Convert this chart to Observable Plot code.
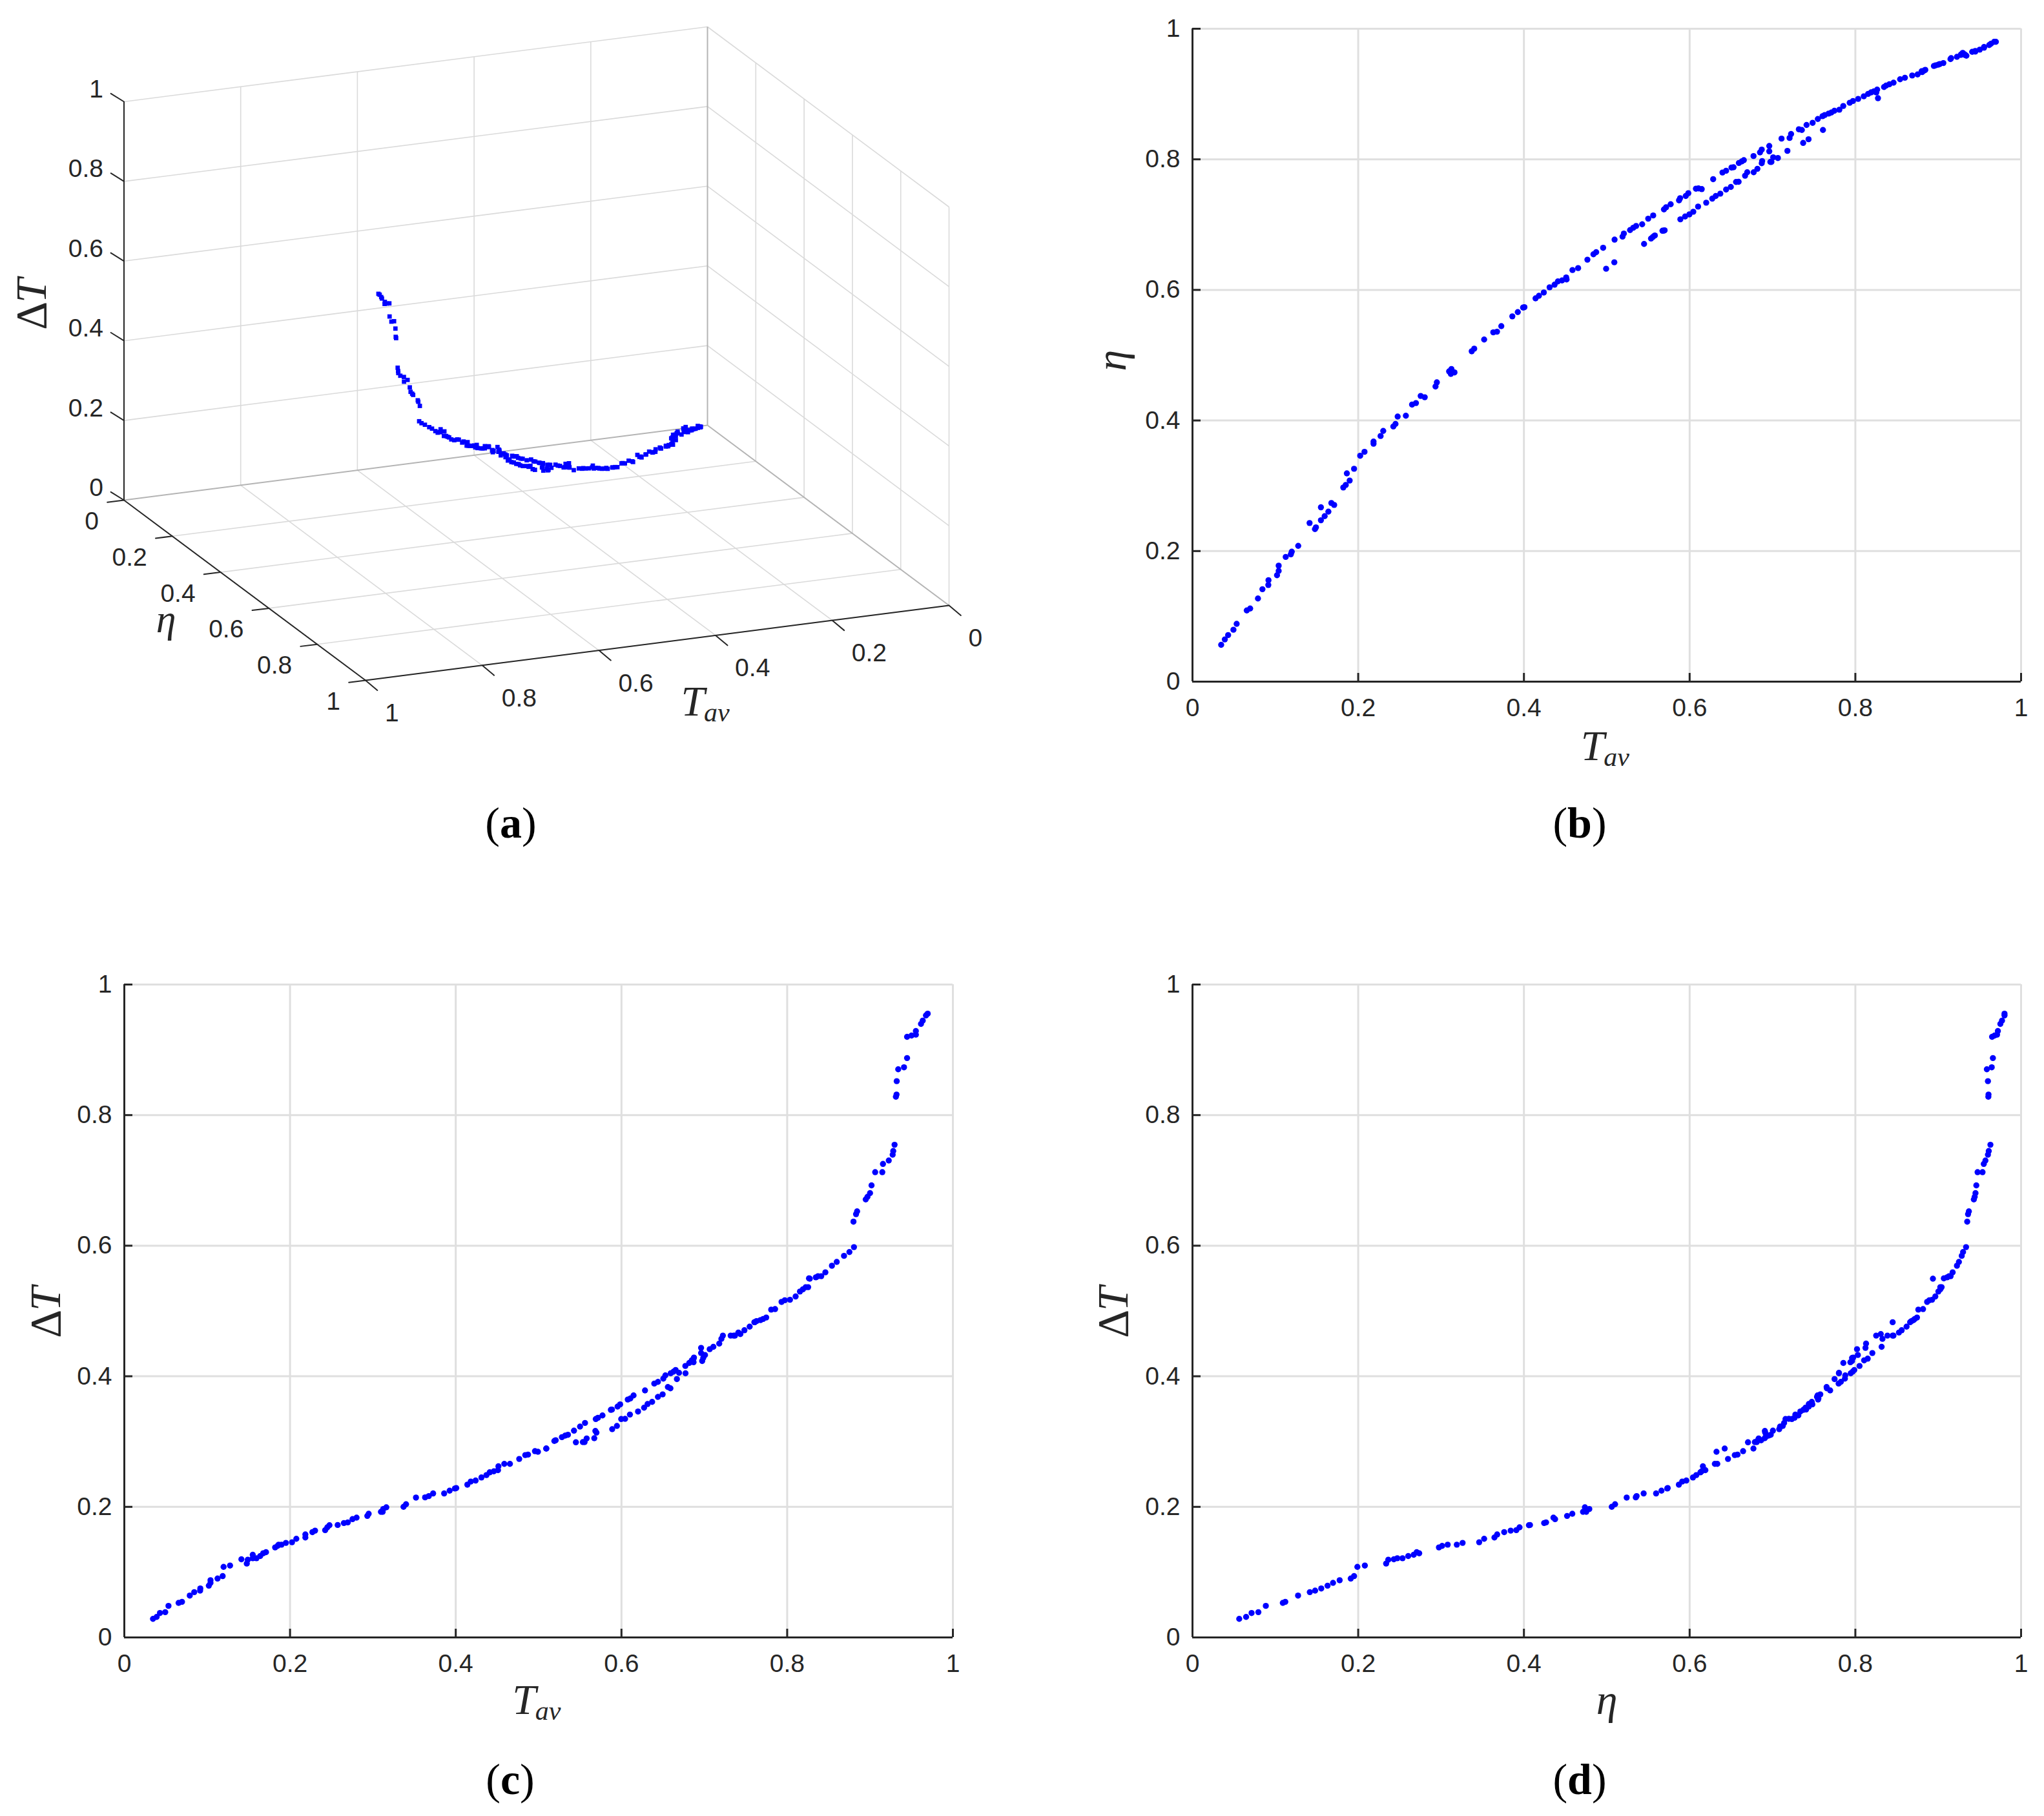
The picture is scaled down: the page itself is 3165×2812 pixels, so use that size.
<!DOCTYPE html>
<html>
<head>
<meta charset="utf-8">
<script src="https://cdn.jsdelivr.net/npm/d3@7"></script>
<script src="https://cdn.jsdelivr.net/npm/@observablehq/plot@0.6"></script>
<style>
html,body{margin:0;padding:0;background:#fff}
#page{position:relative;width:3165px;height:2812px;overflow:hidden;background:#fff}
#page svg{position:absolute;overflow:visible}
.cap{position:absolute;transform:translate(-50%,-50%);font-family:"Liberation Serif",serif;font-size:68px;color:#000;white-space:nowrap}
</style>
</head>
<body>
<div id="page"></div>
<script>
const tav = [
.0346,.039,.043,.0494,.0533,.0655,.0696,.079,.0844,.0915,
.0917,.102,.104,.104,.1125,.1187,.1198,.1276,.1413,.1478,
.149,.155,.155,.1595,.164,.1676,.171,.182,.185,.1863,
.1897,.195,.2024,.2076,.2185,.2185,.227,.2302,.2424,.245,
.2476,.2575,.265,.2697,.2754,.2803,.2933,.2949,.3097,.3118,
.3125,.3162,.337,.34,.352,.363,.3675,.3727,.386,.3926,
.399,.4006,.414,.4181,.424,.431,.437,.441,.446,.451,
.4515,.4586,.4654,.4766,.4839,.4872,.4956,.4992,.5091,.5094,
.519,.5206,.5281,.532,.5354,.5427,.55,.556,.569,.5716,
.5771,.5872,.5885,.5953,.5984,.6076,.6107,.6146,.6284,.6396,
.644,.6505,.653,.6594,.6628,.6654,
.545,.5534,.5555,.558,.5672,.5698,.5685,.5888,.5945,.5997,
.6044,.6102,.62,.6273,.6315,.637,.644,.6497,.656,.6591,
.6669,.6695,.6773,.6818,.687,.6875,.6974,.6987,.7008,.7065,
.6771,.6849,.687,.6961,.6961,.7109,.718,.7206,.7224,.7318,
.7354,.737,.7435,.7411,.7484,.7547,.7609,.7604,.763,.7677,
.771,.7747,.7807,.7854,.7932,.7971,.8034,.8102,.8154,.819,
.8224,.8273,.8253,.8263,.8346,.8372,.8411,.8461,.854,.8598,
.8686,.8751,.8806,.88,.8831,.8844,.8948,.8969,.9,.9018,
.9062,.9148,.9156,.9226,.9273,.928,.9296,.9312,.932,.9322,
.934,.941,.9447,.9447,.9501,.9553,.9553,.9615,.9636,.9675,
.9696];
const eta = [
.0564,.0647,.0713,.0795,.0885,.109,.112,.1274,.1416,.148,
.1554,.163,.1696,.1776,.191,.195,.199,.208,.243,.2337,
.2363,.2472,.267,.2535,.2604,.2736,.2706,.2974,.3013,.319,
.308,.326,.346,.352,.3677,.3644,.3762,.384,.3908,.3947,
.406,.4073,.4244,.4267,.4376,.4356,.4521,.4584,.4752,.4713,
.4789,.4736,.506,.51,.524,.535,.536,.5445,.5595,.566,
.573,.5735,.587,.591,.596,.604,.608,.613,.6145,.619,
.616,.6304,.6334,.6463,.6545,.6578,.6645,.6324,.6423,.677,
.6816,.6863,.6916,.6952,.6979,.7005,.7091,.714,.7233,.7266,
.7312,.7372,.7405,.7438,.7481,.755,.7554,.7544,.7696,.7798,
.7825,.7874,.7878,.7944,.7967,.7987,
.6704,.6787,.681,.6833,.6906,.6912,.6908,.7081,.7124,.7157,
.7197,.7276,.7336,.7398,.7438,.7474,.7537,.7577,.7653,.7656,
.7749,.7802,.7802,.7855,.794,.7974,.796,.796,.803,.802,
.805,.8106,.8149,.8205,.8122,.8317,.8129,.8327,.8387,.846,
.845,.8251,.8307,.8526,.8559,.8618,.845,.8661,.8678,.8701,
.8717,.8744,.876,.8817,.8866,.8893,.8926,.8965,.9002,.9025,
.9041,.8936,.9025,.9068,.9107,.9131,.915,.9174,.9226,.925,
.9284,.93,.9336,.935,.936,.937,.943,.944,.945,.946,
.9475,.9535,.955,.957,.96,.961,.963,.9605,.9607,.96,
.9587,.9646,.966,.965,.968,.971,.972,.975,.977,.98,
.98];
const dT = [
.0284,.0314,.0374,.0387,.0483,.0529,.0545,.0641,.0694,.0717,
.075,.0793,.0836,.0876,.0902,.0939,.1081,.1101,.1197,.1131,
.119,.1213,.1266,.1213,.1246,.1289,.1306,.1379,.1402,.1421,
.1421,.1448,.1458,.1511,.1577,.1531,.1613,.1636,.1643,.1686,
.1719,.1722,.1752,.1762,.1812,.1835,.1861,.1894,.1924,.1924,
.1967,.1993,.2,.204,.2142,.2145,.2165,.2205,.2205,.2248,
.2281,.2288,.234,.2387,.2403,.245,.2486,.2529,.2545,.2562,
.2621,.2658,.2658,.2734,.2793,.28,.2853,.2844,.2893,.2893,
.3009,.302,.3068,.3091,.3104,.3167,.3229,.3285,.3345,.3364,
.34,.3486,.349,.3536,.3569,.3644,.366,.3707,.3783,.3888,
.3914,.3964,.4013,.4046,.407,.4096,
.2989,.2992,.2992,.3048,.3051,.3137,.3163,.319,.3239,.3345,
.3348,.3414,.346,.3519,.3575,.3608,.3684,.3723,.3835,.3816,
.3957,.4053,.4046,.4204,.4215,.4287,.4234,.428,.4326,.4415,
.4158,.4244,.427,.4356,.4435,.4451,.4501,.4573,.4623,.4623,
.4623,.4623,.4646,.467,.4705,.476,.4828,.4828,.4845,.486,
.4878,.49,.5021,.5029,.5139,.5164,.5172,.5222,.5298,.5332,
.5365,.5495,.5365,.55,.5516,.5533,.5533,.5592,.5693,.5752,
.5844,.5903,.5978,.6368,.6483,.6526,.6709,.6748,.6805,.6924,
.7126,.7126,.7252,.7305,.7394,.745,.7546,.8281,.8315,.852,
.8702,.8732,.8874,.9199,.9219,.9232,.9288,.9397,.9447,.9527,
.9553];
if (tav.length !== eta.length || eta.length !== dT.length) throw new Error("lengths " + tav.length + " " + eta.length + " " + dT.length);

const ticks = [0, 0.2, 0.4, 0.6, 0.8, 1];
const inner = [0.2, 0.4, 0.6, 0.8, 1];
const samples = tav.map((t, i) => ({tav: t, eta: eta[i], dT: dT[i]}));

const INK = "#262626", GRID = "#dfdfdf", BLUE = "#0000ff";
const SANS = "Liberation Sans", SERIF = "Liberation Serif";
const page = document.getElementById("page");
function place(el, left, top) { el.style.left = left + "px"; el.style.top = top + "px"; page.appendChild(el); }
function caption(html, x, y) {
  const d = document.createElement("div"); d.className = "cap"; d.innerHTML = html;
  d.style.left = x + "px"; d.style.top = y + "px"; page.appendChild(d);
}
const mathText = (s, o) => Plot.text([s], {text: d => d, fontFamily: SERIF, fill: INK, ...o});
const TAV_LABEL = (x, dy) => [
  mathText("T", {x: () => x, y: () => 0, dy, fontSize: 66, fontStyle: "italic"}),
  mathText("av", {x: () => x, y: () => 0, dx: 37, dy: dy + 17, fontSize: 42, fontStyle: "italic"})
];
const DT_LABEL = (dx) => [
  mathText("\u0394", {x: () => 0, y: () => 0.5, dx, dy: 20, rotate: -90, fontSize: 68}),
  mathText("T", {x: () => 0, y: () => 0.5, dx, dy: -19, rotate: -90, fontSize: 68, fontStyle: "italic"})
];

function panel(xKey, yKey, labels, left, top) {
  const w = 1283, h = 1011;
  const fig = Plot.plot({
    width: 120 + w + 10, height: 10 + h + 130,
    marginLeft: 120, marginRight: 10, marginTop: 10, marginBottom: 130,
    x: {domain: [0, 1], label: null},
    y: {domain: [0, 1], label: null},
    style: {fontFamily: SANS, fontSize: "39px", color: INK, background: "transparent"},
    marks: [
      Plot.ruleX(inner, {stroke: GRID, strokeWidth: 3}),
      Plot.ruleY(inner, {stroke: GRID, strokeWidth: 3}),
      Plot.ruleX(ticks, {x: d => d, y1: 0, y2: 13 / h, stroke: INK, strokeWidth: 3}),
      Plot.ruleY(ticks, {y: d => d, x1: 0, x2: 13 / w, stroke: INK, strokeWidth: 3}),
      Plot.ruleX([0], {stroke: INK, strokeWidth: 3}),
      Plot.ruleY([0], {stroke: INK, strokeWidth: 3}),
      Plot.axisX({ticks, tickSize: 0, tickPadding: 26, tickFormat: String, label: null}),
      Plot.axisY({ticks, tickSize: 0, tickPadding: 19, tickFormat: String, label: null}),
      Plot.dot(samples, {x: xKey, y: yKey, r: 4.7, fill: BLUE, stroke: "none"}),
      ...labels
    ]
  });
  place(fig, left, top);
}

// Panel (a): MATLAB-style orthographic view, expressed as a linear view transform of the three variables.
const view = {uT: -903.5, uE: 374, vT: -116, vE: -279, vZ: 617};
const U = (t, e) => view.uT * t + view.uE * e;
const V = (t, e, z) => view.vT * t + view.vE * e + view.vZ * z;
const seg = (a, b, stroke, sw) => ({a, b, stroke, sw});
const LIGHT = "#dadada", MID = "#b4b4b4";
const gridSegs = [];
for (const v of inner) {
  gridSegs.push(seg([1, 0, v], [0, 0, v], LIGHT, 1.6));      // back wall, horizontal
  gridSegs.push(seg([0, 0, v], [0, 1, v], LIGHT, 1.6));      // side wall, horizontal
  gridSegs.push(seg([0, v, 0], [0, v, 1], LIGHT, 1.6));      // side wall, vertical
  gridSegs.push(seg([0, v, 0], [1, v, 0], LIGHT, 1.6));      // floor
}
for (const v of [0.2, 0.4, 0.6, 0.8]) {
  gridSegs.push(seg([v, 0, 0], [v, 0, 1], LIGHT, 1.6));      // back wall, vertical
  gridSegs.push(seg([v, 0, 0], [v, 1, 0], LIGHT, 1.6));      // floor
}
gridSegs.push(seg([1, 0, 0], [0, 0, 0], MID, 2));
gridSegs.push(seg([0, 0, 0], [0, 1, 0], MID, 2));
gridSegs.push(seg([0, 0, 0], [0, 0, 1], MID, 2));
const axisSegs = [
  seg([1, 0, 0], [1, 0, 1]), seg([1, 0, 0], [1, 1, 0]), seg([1, 1, 0], [0, 1, 0])
];
const P = {x1: d => U(d.a[0], d.a[1]), y1: d => V(...d.a), x2: d => U(d.b[0], d.b[1]), y2: d => V(...d.b)};
const zT = ticks.map(v => [1, 0, v]), eT = ticks.map(v => [1, v, 0]), tT = ticks.map(v => [v, 1, 0]);
const px = d => U(d[0], d[1]), py = d => V(...d);
const stroke1 = {draw(c, l) { c.moveTo(0, 0); c.lineTo(0, -l); }};
const figA = Plot.plot({
  width: 1580, height: 1320,
  marginLeft: 0, marginRight: 0, marginTop: 0, marginBottom: 0,
  x: {domain: [-1095, 485], axis: null},
  y: {domain: [-662, 658], axis: null},
  style: {fontFamily: SANS, color: INK, background: "transparent"},
  marks: [
    Plot.link(gridSegs, {...P, stroke: d => d.stroke, strokeWidth: d => d.sw}),
    Plot.link(axisSegs, {...P, stroke: INK, strokeWidth: 2}),
    // tick marks: short fixed-pixel strokes from each tick's projected position
    Plot.vector(zT, {x: px, y: py, length: 24, rotate: -58, anchor: "start", stroke: INK, strokeWidth: 2, shape: stroke1}),
    Plot.vector(eT, {x: px, y: py, length: 26, rotate: -97, anchor: "start", stroke: INK, strokeWidth: 2, shape: stroke1}),
    Plot.vector(tT, {x: px, y: py, length: 24, rotate: 130, anchor: "start", stroke: INK, strokeWidth: 2, shape: stroke1}),
    Plot.text(zT, {x: px, y: py, text: d => String(d[2]), textAnchor: "end", dx: -32, dy: -19, fontSize: 39, fontFamily: SANS, fill: INK}),
    Plot.text(eT, {x: px, y: py, text: d => String(d[1]), textAnchor: "end", dx: -39, dy: 33, fontSize: 39, fontFamily: SANS, fill: INK}),
    Plot.text(tT, {x: px, y: py, text: d => String(d[0]), textAnchor: "start", dx: 30, dy: 51, fontSize: 39, fontFamily: SANS, fill: INK}),
    Plot.dot(samples, {x: d => U(d.tav, d.eta), y: d => V(d.tav, d.eta, d.dT), symbol: "square", r: 3.8, fill: BLUE, stroke: "none"}),
    mathText("\u0394", {x: () => U(1, 0), y: () => V(1, 0, 0.5), dx: -143, dy: 23, rotate: -90, fontSize: 68}),
    mathText("T", {x: () => U(1, 0), y: () => V(1, 0, 0.5), dx: -143, dy: -16, rotate: -90, fontSize: 68, fontStyle: "italic"}),
    mathText("\u03b7", {x: () => U(1, 0.5), y: () => V(1, 0.5, 0), dx: -122, dy: 45, fontSize: 62, fontStyle: "italic"}),
    mathText("T", {x: () => U(0.5, 1), y: () => V(0.5, 1, 0), dx: 55, dy: 91, fontSize: 66, fontStyle: "italic"}),
    mathText("av", {x: () => U(0.5, 1), y: () => V(0.5, 1, 0), dx: 92, dy: 108, fontSize: 42, fontStyle: "italic"})
  ]
});
place(figA, 0, 0);

panel("tav", "eta",
  [...TAV_LABEL(0.483, 100), mathText("\u03b7", {x: () => 0, y: () => 0.5, dx: -125, dy: 8, rotate: -90, fontSize: 66, fontStyle: "italic"})],
  1726, 34);
panel("tav", "dT", [...TAV_LABEL(0.4826, 97), ...DT_LABEL(-121)], 71.5, 1514);
panel("eta", "dT",
  [mathText("\u03b7", {x: () => 0.5, y: () => 0, dy: 97, fontSize: 66, fontStyle: "italic"}), ...DT_LABEL(-122)],
  1726, 1514);

caption("(<b>a</b>)", 791, 1274);
caption("(<b>b</b>)", 2446, 1274);
caption("(<b>c</b>)", 790, 2755);
caption("(<b>d</b>)", 2446, 2755);
</script>
</body>
</html>
